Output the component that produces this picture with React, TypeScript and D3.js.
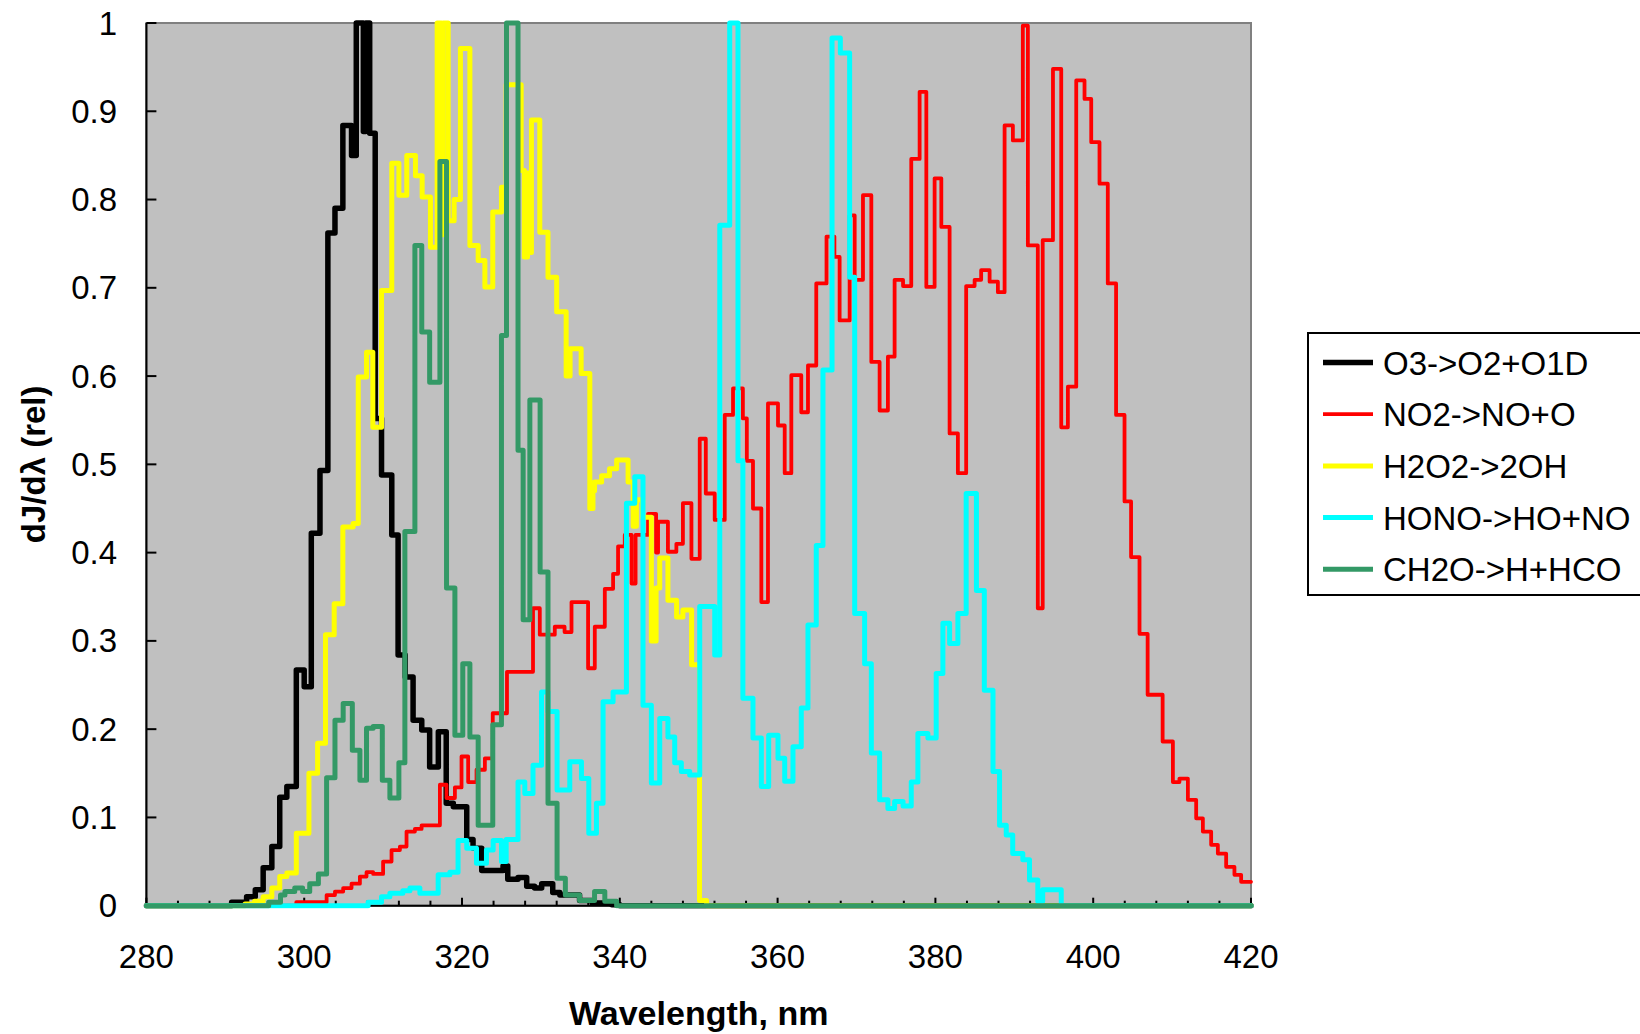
import React from "react";
import * as d3 from "d3";

const xTickLabels = [280, 300, 320, 340, 360, 380, 400, 420];
const yTickLabels = [0, 0.1, 0.2, 0.3, 0.4, 0.5, 0.6, 0.7, 0.8, 0.9, 1];

const o3: [number, number][] = [
  [280, 0], [290.8, 0.004], [292.7, 0.01], [293.8, 0.018], [294.8, 0.043], [295.9, 0.067], [296.9, 0.123],
  [297.8, 0.135], [299.0, 0.267], [300.0, 0.248], [300.9, 0.422], [302.0, 0.493], [303.0, 0.762], [303.9, 0.79],
  [304.9, 0.884], [306.0, 0.85], [306.6, 1.0], [307.5, 0.877], [307.8, 1.0], [308.3, 0.875], [309.0, 0.552],
  [309.8, 0.488], [311.1, 0.42], [311.9, 0.284], [312.8, 0.259], [313.8, 0.21], [314.9, 0.199], [315.9, 0.157],
  [317.0, 0.197], [318.0, 0.116], [318.9, 0.112], [320.6, 0.075], [321.4, 0.065], [322.5, 0.04], [325.2, 0.045],
  [325.8, 0.03], [327.1, 0.032], [328.2, 0.022], [329.2, 0.02], [330.1, 0.025], [331.5, 0.015], [332.4, 0.012],
  [334.9, 0.006], [336.5, 0.003], [339, 0.001], [340, 0], [420, 0],
];

const no2: [number, number][] = [
  [280, 0], [299.0, 0.004], [302.84, 0.012], [303.9, 0.016], [304.94, 0.02], [306.0, 0.025], [307.06, 0.033],
  [307.9, 0.038], [308.74, 0.036], [310.0, 0.05], [311.07, 0.063], [312.13, 0.067], [312.97, 0.084], [314.03, 0.087],
  [314.88, 0.091], [317.2, 0.137], [318.04, 0.122], [319.1, 0.134], [319.94, 0.169], [320.78, 0.14], [321.84, 0.154],
  [322.9, 0.167], [323.9, 0.218], [325.7, 0.265], [329.0, 0.337], [329.86, 0.307], [331.76, 0.316], [333.0, 0.31],
  [333.88, 0.344], [335.98, 0.269], [336.83, 0.316], [338.1, 0.359], [339.15, 0.376], [339.78, 0.407], [340.63, 0.42],
  [341.5, 0.365], [342.0, 0.42], [343.58, 0.444], [344.6, 0.4], [344.85, 0.435], [346.1, 0.401], [347.17, 0.41],
  [348.0, 0.456], [349.08, 0.393], [350.13, 0.529], [350.9, 0.467], [352.03, 0.437], [353.3, 0.556], [354.35, 0.586],
  [355.6, 0.552], [356.1, 0.504], [356.88, 0.45], [357.94, 0.344], [358.78, 0.569], [360.05, 0.544], [360.9, 0.49],
  [361.74, 0.601], [363.0, 0.559], [363.85, 0.612], [364.9, 0.705], [366.2, 0.758], [367.2, 0.735], [367.86, 0.663],
  [369.13, 0.782], [369.77, 0.709], [370.82, 0.805], [371.88, 0.616], [372.93, 0.561], [373.98, 0.622], [374.83, 0.709],
  [375.9, 0.702], [376.94, 0.846], [378.0, 0.922], [378.85, 0.701], [379.9, 0.824], [380.75, 0.769], [381.8, 0.535],
  [382.85, 0.49], [383.9, 0.702], [384.97, 0.709], [385.8, 0.72], [386.87, 0.707], [387.92, 0.695], [388.77, 0.884],
  [389.82, 0.867], [391.08, 0.997], [391.72, 0.748], [392.98, 0.337], [393.6, 0.754], [394.9, 0.948], [395.95, 0.542],
  [396.79, 0.588], [397.85, 0.935], [398.9, 0.914], [399.75, 0.865], [400.8, 0.818], [401.85, 0.705], [402.9, 0.556],
  [403.97, 0.458], [404.8, 0.395], [405.87, 0.308], [406.9, 0.239], [408.8, 0.186], [410.1, 0.14], [410.93, 0.144],
  [412.0, 0.12], [413.05, 0.099], [413.9, 0.084], [414.95, 0.069], [415.8, 0.059], [416.85, 0.044], [417.9, 0.035],
  [418.75, 0.027], [420, 0.027],
];

const h2o2: [number, number][] = [
  [280, 0], [292.5, 0.002], [293.7, 0.005], [294.8, 0.01], [295.9, 0.02], [296.9, 0.033], [297.8, 0.037],
  [299.0, 0.082], [300.6, 0.15], [301.7, 0.184], [302.7, 0.307], [303.8, 0.342], [304.9, 0.429], [306.2, 0.433],
  [306.85, 0.599], [307.9, 0.627], [308.7, 0.542], [309.8, 0.697], [311.1, 0.841], [312.0, 0.805], [313.0, 0.85],
  [314.1, 0.827], [314.95, 0.803], [316.0, 0.746], [316.85, 1.0], [317.4, 0.76], [317.6, 1.0], [318.25, 0.776],
  [319.0, 0.8], [319.8, 0.971], [321.0, 0.748], [322.05, 0.731], [322.9, 0.701], [323.9, 0.786], [325.0, 0.814],
  [325.6, 0.93], [327.5, 0.833], [327.9, 0.735], [328.3, 0.83], [328.6, 0.74], [328.8, 0.89], [329.86, 0.763],
  [330.9, 0.712], [332.0, 0.673], [333.2, 0.6], [333.7, 0.631], [335.1, 0.603], [336.2, 0.45], [336.6, 0.47],
  [336.8, 0.48], [337.7, 0.487], [338.7, 0.495], [339.6, 0.505], [341.05, 0.48], [341.7, 0.43], [342.1, 0.46],
  [342.9, 0.44], [344.0, 0.3], [344.6, 0.36], [345.06, 0.394], [346.1, 0.346], [347.2, 0.327], [348.0, 0.335],
  [349.1, 0.273], [350.1, 0.006], [351.0, 0], [420, 0],
];

const hono: [number, number][] = [
  [280, 0], [308.1, 0.004], [309.8, 0.01], [310.86, 0.014], [312.5, 0.017], [313.4, 0.02], [314.66, 0.014],
  [316.98, 0.035], [318.46, 0.038], [319.5, 0.074], [320.6, 0.065], [321.84, 0.048], [323.1, 0.063], [323.95, 0.074],
  [325.0, 0.05], [325.6, 0.075], [327.1, 0.14], [327.96, 0.127], [329.0, 0.159], [330.08, 0.242], [330.9, 0.22],
  [332.05, 0.131], [333.66, 0.163], [335.14, 0.144], [336.07, 0.082], [337.04, 0.116], [337.88, 0.231], [339.15, 0.242],
  [340.84, 0.456], [341.9, 0.486], [342.94, 0.227], [344.0, 0.139], [345.06, 0.212], [346.1, 0.191], [346.96, 0.162],
  [347.8, 0.152], [348.86, 0.148], [350.13, 0.339], [352.03, 0.284], [352.67, 0.771], [353.93, 1.0], [354.98, 0.504],
  [355.6, 0.235], [356.88, 0.19], [357.94, 0.135], [358.87, 0.193], [360.05, 0.167], [360.9, 0.141], [361.95, 0.18],
  [363.0, 0.224], [363.85, 0.318], [364.9, 0.408], [365.75, 0.607], [366.9, 0.983], [367.95, 0.966], [369.13, 0.712],
  [369.77, 0.331], [371.03, 0.274], [371.88, 0.173], [372.93, 0.12], [373.98, 0.11], [374.83, 0.118], [375.9, 0.113],
  [376.94, 0.14], [377.78, 0.195], [379.05, 0.19], [380.1, 0.263], [380.95, 0.32], [381.8, 0.297], [382.85, 0.331],
  [383.9, 0.467], [385.2, 0.357], [386.2, 0.244], [387.3, 0.152], [388.13, 0.091], [388.98, 0.08], [389.8, 0.059],
  [391.08, 0.052], [391.93, 0.029], [392.98, 0.005], [393.6, 0.018], [395.95, 0], [420, 0],
];

const ch2o: [number, number][] = [
  [280, 0], [295.5, 0.004], [297.0, 0.012], [297.56, 0.016], [298.8, 0.02], [299.8, 0.016], [300.7, 0.025],
  [301.8, 0.036], [302.84, 0.145], [303.9, 0.21], [304.94, 0.229], [306.1, 0.176], [307.06, 0.142], [307.9, 0.201],
  [308.74, 0.203], [309.9, 0.142], [310.86, 0.122], [312.0, 0.162], [312.76, 0.424], [314.03, 0.748], [314.9, 0.65],
  [315.9, 0.593], [317.2, 0.843], [318.04, 0.36], [319.1, 0.193], [320.1, 0.274], [321.0, 0.191], [322.05, 0.091],
  [323.9, 0.205], [325.0, 0.646], [325.64, 1.0], [327.1, 0.516], [327.75, 0.324], [328.6, 0.573], [329.9, 0.378],
  [330.9, 0.116], [332.05, 0.031], [333.1, 0.012], [334.9, 0.006], [336.8, 0.016], [338.1, 0.005], [339.6, 0],
  [420, 0],
];

const seriesNames = ["O3->O2+O1D", "NO2->NO+O", "H2O2->2OH", "HONO->HO+NO", "CH2O->H+HCO"];
const seriesData = [o3, no2, h2o2, hono, ch2o];
const seriesColors = ["#000000", "#FF0000", "#FFFF00", "#00FFFF", "#339966"];
const seriesWidths = [5.5, 3.8, 5, 5, 5];

export default function App() {
  const W = 1640, H = 1034;
  const left = 146.4, right = 1251, top = 23, bottom = 905.7;
  const x = d3.scaleLinear().domain([280, 420]).range([left, right]);
  const y = d3.scaleLinear().domain([0, 1]).range([bottom, top]);
  const line = d3.line<[number, number]>().x(d => x(d[0])).y(d => y(d[1])).curve(d3.curveStepAfter);
  const minor = d3.range(280, 420.01, 4);
  const font = "'Liberation Sans', Arial, sans-serif";
  const legX = 1308, legY = 333, legRow = 51.7, legFirst = 362.5;

  return (
    <svg width={W} height={H} style={{ position: "absolute", left: 0, top: 0, display: "block", background: "#fff" }}>
      <defs>
        <clipPath id="plotclip">
          <rect x={left - 3} y={top - 3} width={right - left + 6} height={bottom - top + 6} />
        </clipPath>
      </defs>
      <rect x={left} y={top} width={right - left} height={bottom - top} fill="#C0C0C0" stroke="#808080" strokeWidth={2} />
      <line x1={left} x2={left} y1={top} y2={bottom} stroke="#000" strokeWidth={2} />
      <line x1={left} x2={right} y1={bottom} y2={bottom} stroke="#000" strokeWidth={2} />
      {yTickLabels.map(v => (
        <line key={"yt" + v} x1={left} x2={left + 10} y1={y(v)} y2={y(v)} stroke="#000" strokeWidth={2} />
      ))}
      {minor.map(v => (
        <line key={"xt" + v} x1={x(v)} x2={x(v)} y1={bottom} y2={bottom - (v % 20 === 0 ? 8 : 5)} stroke="#000" strokeWidth={2} />
      ))}
      <g clipPath="url(#plotclip)">
        {seriesData.map((d, i) => (
          <path key={seriesNames[i]} d={line(d) || ""} fill="none" stroke={seriesColors[i]} strokeWidth={seriesWidths[i]}
            strokeLinejoin="round" strokeLinecap="round" />
        ))}
      </g>
      {yTickLabels.map(v => (
        <text key={"yl" + v} x={117} y={y(v) + 11.5} textAnchor="end" fontFamily={font} fontSize={33} fill="#000">
          {String(v)}
        </text>
      ))}
      {xTickLabels.map(v => (
        <text key={"xl" + v} x={x(v)} y={967.5} textAnchor="middle" fontFamily={font} fontSize={33} fill="#000">
          {String(v)}
        </text>
      ))}
      <text x={(left + right) / 2} y={1025} textAnchor="middle" fontFamily={font} fontSize={34} fontWeight="bold">
        Wavelength, nm
      </text>
      <text transform={`translate(45, ${(top + bottom) / 2}) rotate(-90)`} textAnchor="middle" fontFamily={font}
        fontSize={33} fontWeight="bold">
        dJ/dλ (rel)
      </text>
      <rect x={legX} y={legY} width={360} height={262} fill="#fff" stroke="#000" strokeWidth={2} />
      {seriesNames.map((n, i) => (
        <g key={"lg" + n}>
          <line x1={1323} x2={1373} y1={legFirst + i * legRow} y2={legFirst + i * legRow} stroke={seriesColors[i]}
            strokeWidth={seriesWidths[i]} />
          <text x={1383} y={legFirst + i * legRow + 12} fontFamily={font} fontSize={33} fill="#000">{n}</text>
        </g>
      ))}
    </svg>
  );
}
